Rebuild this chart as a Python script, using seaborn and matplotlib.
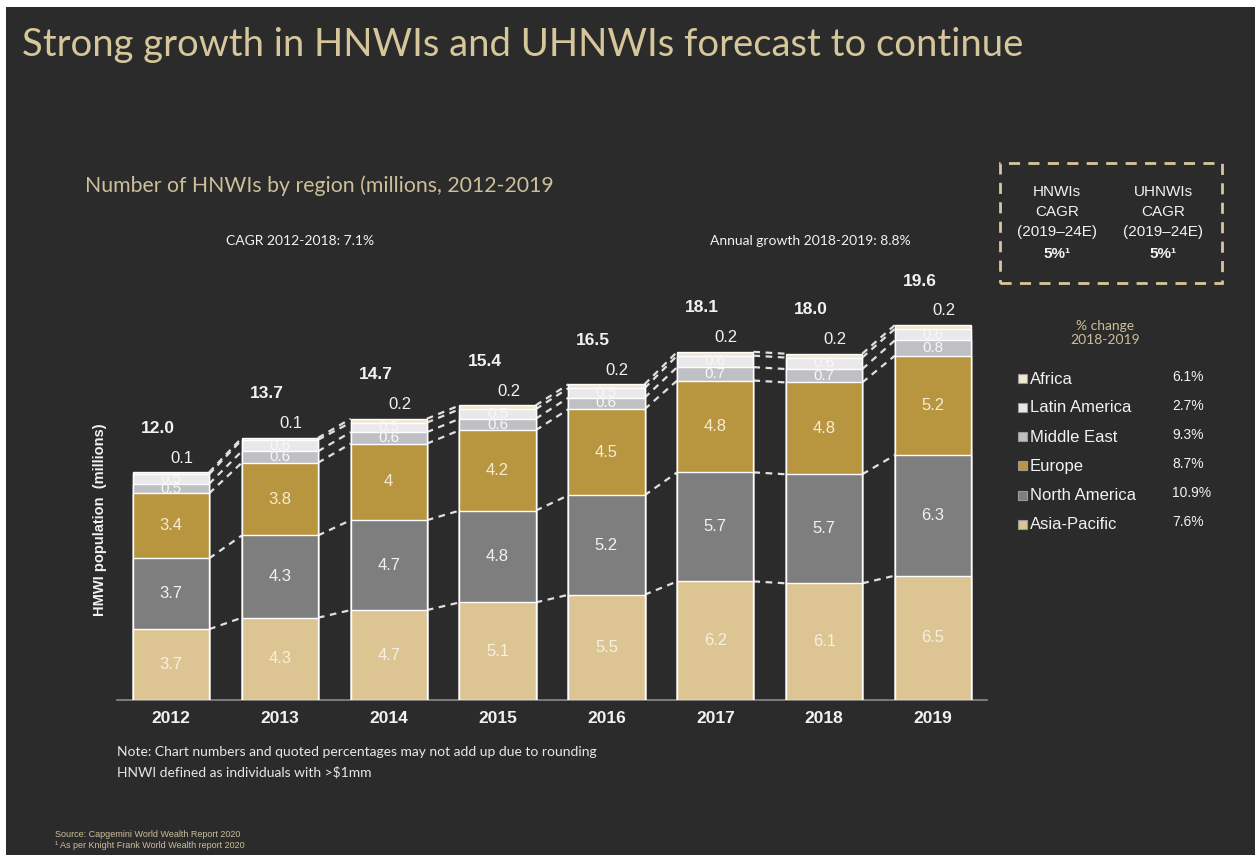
import numpy as np
import pandas as pd
import matplotlib
matplotlib.use("Agg")
import matplotlib.pyplot as plt
from matplotlib.patches import Rectangle
import seaborn as sns

# ---- data (millions of HNWIs) ----
years = ["2012", "2013", "2014", "2015", "2016", "2017", "2018", "2019"]
asia_pacific = [3.7, 4.3, 4.7, 5.1, 5.5, 6.2, 6.1, 6.5]
north_america = [3.7, 4.3, 4.7, 4.8, 5.2, 5.7, 5.7, 6.3]
europe = [3.4, 3.8, 4.0, 4.2, 4.5, 4.8, 4.8, 5.2]
middle_east = [0.5, 0.6, 0.6, 0.6, 0.6, 0.7, 0.7, 0.8]
latin_america = [0.5, 0.6, 0.5, 0.5, 0.5, 0.6, 0.6, 0.6]
africa = [0.1, 0.1, 0.2, 0.2, 0.2, 0.2, 0.2, 0.2]
totals = [12.0, 13.7, 14.7, 15.4, 16.5, 18.1, 18.0, 19.6]

regions = ["Asia-Pacific", "North America", "Europe", "Middle East", "Latin America", "Africa"]
pct_change = {"Africa": "6.1%", "Latin America": "2.7%", "Middle East": "9.3%",
              "Europe": "8.7%", "North America": "10.9%", "Asia-Pacific": "7.6%"}

series = {
    "Asia-Pacific": asia_pacific,
    "North America": north_america,
    "Europe": europe,
    "Middle East": middle_east,
    "Latin America": latin_america,
    "Africa": africa,
}

colors = {
    "Asia-Pacific": "#dcc593",
    "North America": "#7e7e7e",
    "Europe": "#b8953f",
    "Middle East": "#bfc0c4",
    "Latin America": "#e9e9eb",
    "Africa": "#f1e8d3",
}

BG = "#2b2b2b"
TAN = "#d6c69b"
WHITE = "#f2f2f2"

sns.set_theme(style="dark", rc={
    "axes.facecolor": BG,
    "figure.facecolor": "white",
})
plt.rcParams["font.family"] = ["Liberation Sans", "DejaVu Sans"]

W, H = 1255, 855
fig = plt.figure(figsize=(W / 100, H / 100), dpi=100)


def px(x, y):
    return x / W, 1 - y / H


# dark slide area with a thin white margin on top/left
fig.patches.append(Rectangle(px(6, H), (W - 6) / W, (H - 7) / H,
                             transform=fig.transFigure, facecolor=BG,
                             edgecolor="none", zorder=-5))

# axes: bar centres from x=171px to x=933px, baseline at y=700px
unit_x = (933 - 171) / 7
unit_y = 19.13
ax_left = 171 - 0.5 * unit_x
ax_w = 8 * unit_x
ymax = 21.0
ax_h = ymax * unit_y
ax = fig.add_axes([ax_left / W, (H - 700) / H, ax_w / W, ax_h / H])
ax.set_facecolor("none")
ax.set_zorder(2)

# stacked bars: draw cumulative heights from the top layer down
df = pd.DataFrame(series, index=years)
cum = df.cumsum(axis=1)
for reg in reversed(regions):
    sns.barplot(x=years, y=cum[reg].values, color=colors[reg], saturation=1,
                width=0.7, edgecolor="white", linewidth=1.0, errorbar=None,
                ax=ax, zorder=3)

ax.set_xlim(-0.5, 7.5)
ax.set_ylim(0, ymax)
ax.set_yticks([])
ax.set_ylabel("")
ax.set_xlabel("")
for s in ["top", "right", "left"]:
    ax.spines[s].set_visible(False)
ax.spines["bottom"].set_color("#8a8a8a")
ax.spines["bottom"].set_linewidth(1.2)
ax.tick_params(axis="x", length=0, pad=8, labelsize=12.5, labelcolor=WHITE)
for t in ax.get_xticklabels():
    t.set_fontweight("bold")
ax.grid(False)

# dashed connectors between neighbouring bars at each segment boundary
half = 0.35
for reg in regions:
    vals = cum[reg].values
    for i in range(len(years) - 1):
        ax.plot([i + half, i + 1 - half], [vals[i], vals[i + 1]],
                ls=(0, (3, 2.5)), color="#e0e0e0", lw=1.6, zorder=2)

# segment value labels
inner_colors = {
    "Asia-Pacific": "#f6f0e2",
    "North America": "#f2f2f2",
    "Europe": "#f6ecd4",
    "Middle East": "#f8f8f8",
    "Latin America": "#f8f8f8",
}
for reg in regions[:-1]:
    base = cum[reg].values - df[reg].values
    for i, v in enumerate(df[reg].values):
        ax.text(i, base[i] + v / 2, f"{v:g}", ha="center", va="center",
                fontsize=12 if v > 1 else 11, color=inner_colors[reg],
                zorder=5)

# Africa values and totals above bars
top = cum["Africa"].values
for i, v in enumerate(africa):
    ax.text(i + 0.1, top[i] + 0.75, f"{v:g}", ha="center", va="center",
            fontsize=12, color=WHITE, zorder=5)
for i, t in enumerate(totals):
    ax.text(i - 0.12, top[i] + 2.3, f"{t:.1f}", ha="center", va="center",
            fontsize=12.5, fontweight="bold", color=WHITE, zorder=5)

# titles and annotations
fig.text(*px(22, 45), "Strong growth in HNWIs and UHNWIs forecast to continue",
         ha="left", va="center", fontsize=27.5, color=TAN, family=["Lato", "DejaVu Sans"])
fig.text(*px(85, 186), "Number of HNWIs by region (millions, 2012-2019",
         ha="left", va="center", fontsize=15.3, color="#cdbf9a",
         family=["Lato", "DejaVu Sans"])
fig.text(*px(300, 241), "CAGR 2012-2018: 7.1%", ha="center", va="center",
         fontsize=10, color=WHITE, family=["Lato", "DejaVu Sans"])
fig.text(*px(810, 241), "Annual growth 2018-2019: 8.8%", ha="center", va="center",
         fontsize=10, color=WHITE, family=["Lato", "DejaVu Sans"])
fig.text(*px(100, 520), "HMWI population  (millions)", rotation=90,
         ha="center", va="center", fontsize=10.5, fontweight="bold", color=WHITE)

# CAGR forecast box
box = Rectangle(px(1000, 283), 222 / W, 120 / H, transform=fig.transFigure,
                facecolor="none", edgecolor=TAN, lw=2, ls=(0, (4, 3)))
fig.patches.append(box)
for cx, head in [(1057, "HNWIs"), (1163, "UHNWIs")]:
    for y, line in [(192, head), (212, "CAGR"), (232, "(2019\u201324E)")]:
        fig.text(*px(cx, y), line, ha="center", va="center", fontsize=11,
                 color=WHITE)
    fig.text(*px(cx, 254), "5%\u00b9", ha="center", va="center", fontsize=11,
             fontweight="bold", color=WHITE)

# legend with % change column
fig.text(*px(1105, 333), "% change\n2018-2019", ha="center", va="center",
         fontsize=10, color="#cdbf9a", linespacing=1.1,
         family=["Lato", "DejaVu Sans"])
legend_order = ["Africa", "Latin America", "Middle East", "Europe",
                "North America", "Asia-Pacific"]
for k, reg in enumerate(legend_order):
    y = 379 + k * 29
    sq = 9
    fig.patches.append(Rectangle(px(1018, y + sq / 2), sq / W, sq / H,
                                 transform=fig.transFigure,
                                 facecolor=colors[reg], edgecolor="#9a9a9a",
                                 lw=0.8))
    fig.text(*px(1030, y), reg, ha="left", va="center", fontsize=12,
             color=WHITE)
    fig.text(*px(1172, y - 2), pct_change[reg], ha="left", va="center",
             fontsize=10, color=WHITE)

# notes and sources
fig.text(*px(117, 752), "Note: Chart numbers and quoted percentages may not add up due to rounding",
         ha="left", va="center", fontsize=10, color="#e8e8e8",
         family=["Lato", "DejaVu Sans"])
fig.text(*px(117, 772), "HNWI defined as individuals with >$1mm",
         ha="left", va="center", fontsize=10, color="#e8e8e8",
         family=["Lato", "DejaVu Sans"])
fig.text(*px(55, 834), "Source: Capgemini World Wealth Report 2020",
         ha="left", va="center", fontsize=6.5, color="#cdbf9a")
fig.text(*px(55, 845), "\u00b9 As per Knight Frank World Wealth report 2020",
         ha="left", va="center", fontsize=6.5, color="#cdbf9a")

fig.savefig("out.png", dpi=100, facecolor=fig.get_facecolor())
